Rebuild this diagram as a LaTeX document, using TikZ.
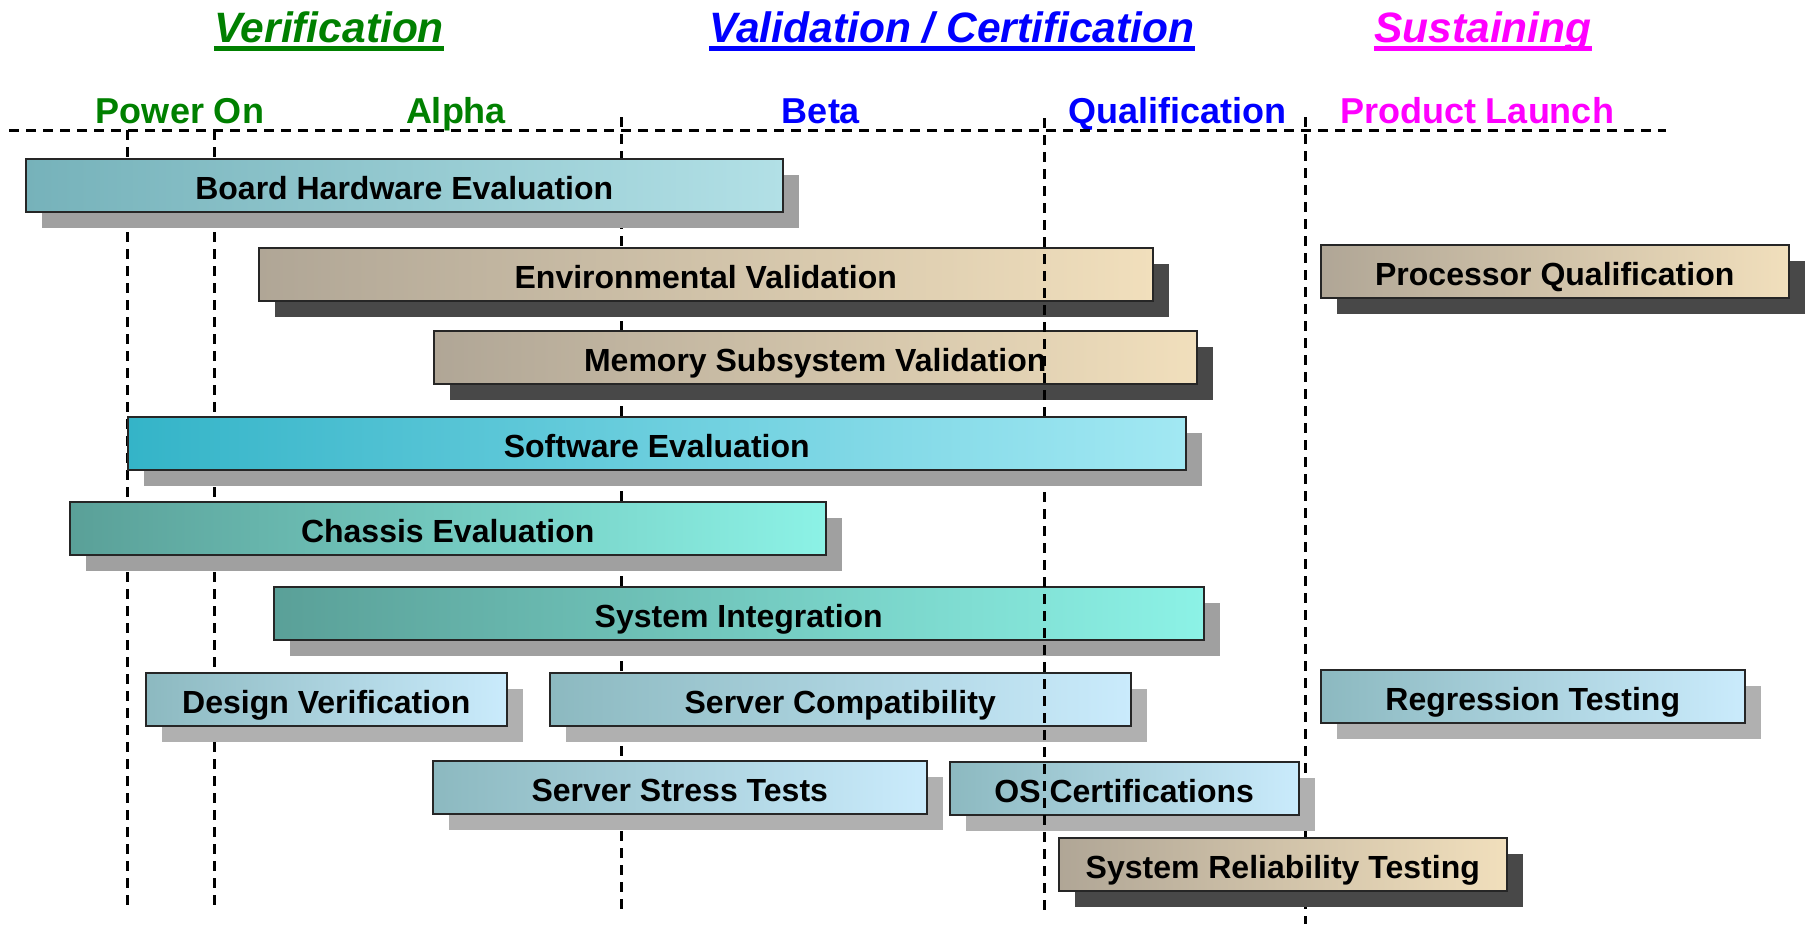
\documentclass[tikz,border=0pt]{standalone}
\usepackage{fontspec}
\setmainfont{Liberation Sans}
\usetikzlibrary{shadows}

\definecolor{verifgreen}{RGB}{0,128,0}
\definecolor{validblue}{RGB}{0,0,255}
\definecolor{sustainpink}{RGB}{255,0,255}
\definecolor{boardL}{RGB}{118,178,186}
\definecolor{boardR}{RGB}{178,224,230}
\definecolor{tanL}{RGB}{176,166,150}
\definecolor{tanR}{RGB}{241,223,188}
\definecolor{softL}{RGB}{52,180,200}
\definecolor{softR}{RGB}{162,232,243}
\definecolor{tealL}{RGB}{90,160,152}
\definecolor{tealR}{RGB}{140,242,230}
\definecolor{paleL}{RGB}{140,185,192}
\definecolor{paleR}{RGB}{202,235,252}
\definecolor{shadowmid}{RGB}{160,160,160}
\definecolor{shadowpale}{RGB}{176,176,176}
\definecolor{shadowdark}{RGB}{72,72,72}

\tikzset{
  phase/.style={anchor=base, inner sep=0pt, font=\bfseries\itshape\fontsize{42.5}{48}\selectfont},
  stage/.style={anchor=base, inner sep=0pt, font=\bfseries\fontsize{36}{40}\selectfont},
  milestone/.style={black, line width=3pt, dash pattern=on 10pt off 7pt},
  task/.style={draw=black!85, line width=1.5pt, anchor=north west, minimum height=53pt,
    inner sep=0pt, text height=28pt, text depth=0pt, font=\bfseries\fontsize{32}{36}\selectfont},
  boardtask/.style={task, left color=boardL, right color=boardR,
    general shadow={fill=shadowmid, shadow xshift=16pt, shadow yshift=-16pt}},
  tantask/.style={task, left color=tanL, right color=tanR,
    general shadow={fill=shadowdark, shadow xshift=16pt, shadow yshift=-16pt}},
  softtask/.style={task, left color=softL, right color=softR,
    general shadow={fill=shadowmid, shadow xshift=16pt, shadow yshift=-16pt}},
  tealtask/.style={task, left color=tealL, right color=tealR,
    general shadow={fill=shadowmid, shadow xshift=16pt, shadow yshift=-16pt}},
  paletask/.style={task, left color=paleL, right color=paleR,
    general shadow={fill=shadowpale, shadow xshift=16pt, shadow yshift=-16pt}}
}

\begin{document}
\begin{tikzpicture}[x=1pt, y=-1pt]
  \useasboundingbox (0,0) rectangle (1805,924);

  % phases
  \node[phase, verifgreen] (verif) at (329,42) {Verification};
  \node[phase, validblue] (valid) at (952,42) {Validation / Certification};
  \node[phase, sustainpink] (sustain) at (1483,42) {Sustaining};
  \draw[verifgreen, line width=4.5pt] ([yshift=-6.5pt]verif.base west) -- ([yshift=-6.5pt]verif.base east);
  \draw[validblue, line width=4.5pt] ([yshift=-6.5pt]valid.base west) -- ([yshift=-6.5pt]valid.base east);
  \draw[sustainpink, line width=4.5pt] ([yshift=-6.5pt]sustain.base west) -- ([yshift=-6.5pt]sustain.base east);

  % milestones
  \node[stage, verifgreen] (poweron) at (180,123) {Power On};
  \node[stage, verifgreen] (alpha) at (456,123) {Alpha};
  \node[stage, validblue] (beta) at (821,123) {Beta};
  \node[stage, validblue] (qual) at (1177,123) {Qualification};
  \node[stage, sustainpink] (launch) at (1477,123) {Product Launch};

  \coordinate (axisL) at (9,130);
  \coordinate (axisR) at (1666,130);
  \coordinate (poweronT) at (127,130);
  \coordinate (poweronB) at (127,911);
  \coordinate (alphaT) at (214,130);
  \coordinate (alphaB) at (214,911);
  \coordinate (betaT) at (621,117);
  \coordinate (betaB) at (621,912);
  \coordinate (qualT) at (1044,118);
  \coordinate (qualB) at (1044,914);
  \coordinate (launchT) at (1305,117);
  \coordinate (launchB) at (1305,924);

  \draw[milestone] (axisL) -- (axisR);
  \draw[milestone] (poweronT) -- (poweronB);
  \draw[milestone] (alphaT) -- (alphaB);
  \draw[milestone] (betaT) -- (betaB);
  \draw[milestone] (launchT) -- (launchB);

  % tasks
  \node[boardtask, minimum width=757pt] (board) at (25,158) {Board Hardware Evaluation};
  \node[tantask, minimum width=894pt] (environ) at (258,247) {Environmental Validation};
  \node[tantask, minimum width=468pt] (procqual) at (1320,244) {Processor Qualification};
  \node[tantask, minimum width=763pt] (memory) at (433,330) {Memory Subsystem Validation};
  \node[tealtask, minimum width=756pt] (chassis) at (69,501) {Chassis Evaluation};
  \node[tealtask, minimum width=930pt] (sysint) at (273,586) {System Integration};
  \node[paletask, minimum width=361pt] (design) at (145,672) {Design Verification};
  \node[paletask, minimum width=581pt] (compat) at (549,672) {Server Compatibility};
  \node[paletask, minimum width=424pt] (regress) at (1320,669) {Regression Testing};
  \node[paletask, minimum width=494pt] (stress) at (432,760) {Server Stress Tests};
  \node[paletask, minimum width=349pt] (oscert) at (949,761) {OS Certifications};

  \draw[milestone] (qualT) -- (qualB);

  \node[softtask, minimum width=1058pt] (software) at (127,416) {Software Evaluation};
  \node[tantask, minimum width=448pt] (sysrel) at (1058,837) {System Reliability Testing};
\end{tikzpicture}
\end{document}
